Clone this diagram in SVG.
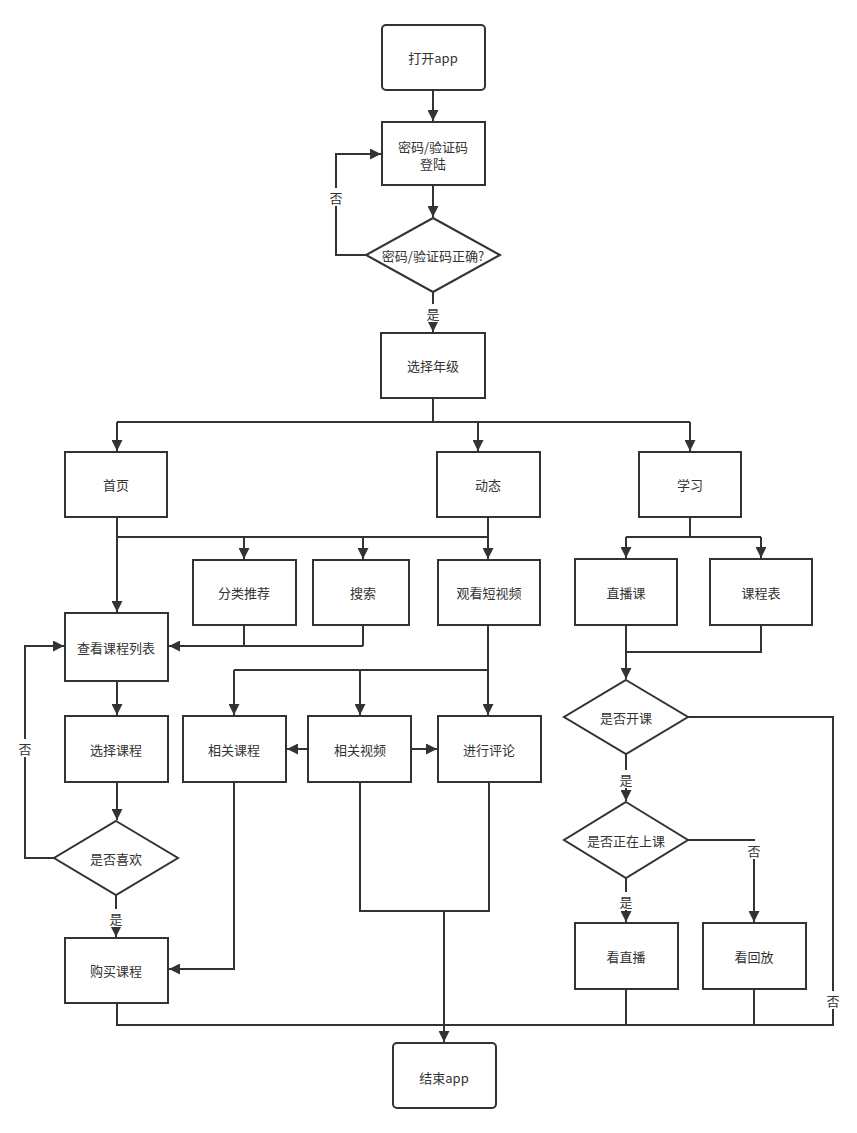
<svg xmlns="http://www.w3.org/2000/svg" width="857" height="1133" viewBox="0 0 857 1133">
<style>
.n{fill:#fff;stroke:#333;stroke-width:2}
.t{font-family:"Noto Sans CJK SC","Liberation Sans",sans-serif;font-size:13px;fill:#333;text-anchor:middle;dominant-baseline:central}
.c{fill:none;stroke:#333;stroke-width:2}
.a{marker-end:url(#ar)}
.lb{fill:#fff}
</style>
<defs><marker id="ar" viewBox="0 0 10 10" refX="10" refY="5" markerWidth="5.5" markerHeight="5.5" orient="auto" markerUnits="strokeWidth"><path d="M0,0L10,5L0,10z" fill="#333"/></marker></defs>
<rect width="857" height="1133" fill="#fff"/>
<g id="connectors">
<path class="c a" d="M433,90V121"/>
<path class="c a" d="M433,185V217"/>
<path class="c a" d="M366,255H336V154H381"/>
<path class="c a" d="M433,292V332"/>
<path class="c" d="M433,398V422M117,422H690"/>
<path class="c a" d="M117,422V451"/>
<path class="c a" d="M478,422V451"/>
<path class="c a" d="M690,422V451"/>
<path class="c a" d="M117,517V612"/>
<path class="c" d="M117,537H488M488,517V537"/>
<path class="c a" d="M244,537V559"/>
<path class="c a" d="M363,537V559"/>
<path class="c a" d="M488,537V559"/>
<path class="c" d="M244,625V646M363,625V646"/>
<path class="c a" d="M363,646H169"/>
<path class="c a" d="M117,681V715"/>
<path class="c a" d="M117,782V820"/>
<path class="c a" d="M54,858H25V646H64"/>
<path class="c a" d="M116,895V937"/>
<path class="c" d="M488,625V670H234"/>
<path class="c a" d="M234,670V715"/>
<path class="c a" d="M360,670V715"/>
<path class="c a" d="M488,670V715"/>
<path class="c a" d="M308,749H287"/>
<path class="c a" d="M411,749H437"/>
<path class="c a" d="M234,782V969H169"/>
<path class="c" d="M360,782V911H489V782"/>
<path class="c a" d="M444,911V1042"/>
<path class="c" d="M117,1003V1025H833V717H688"/>
<path class="c" d="M626,989V1025M754,989V1025"/>
<path class="c" d="M690,517V537M626,537H761"/>
<path class="c a" d="M626,537V558"/>
<path class="c a" d="M761,537V558"/>
<path class="c" d="M626,625V652H761V625"/>
<path class="c a" d="M626,652V679"/>
<path class="c a" d="M626,754V801"/>
<path class="c a" d="M626,878V922"/>
<path class="c a" d="M688,840H754V922"/>
<rect class="lb" x="328" y="188" width="16" height="18"/><text class="t" x="336" y="197">否</text>
<rect class="lb" x="425" y="304" width="16" height="18"/><text class="t" x="433" y="313">是</text>
<rect class="lb" x="17" y="739" width="16" height="18"/><text class="t" x="25" y="748">否</text>
<rect class="lb" x="108" y="909" width="16" height="18"/><text class="t" x="116" y="918">是</text>
<rect class="lb" x="618" y="770" width="16" height="18"/><text class="t" x="626" y="779">是</text>
<rect class="lb" x="618" y="892" width="16" height="18"/><text class="t" x="626" y="901">是</text>
<rect class="lb" x="746" y="841" width="16" height="18"/><text class="t" x="754" y="850">否</text>
<rect class="lb" x="825" y="991" width="16" height="18"/><text class="t" x="833" y="1000">否</text>
</g>
<g id="n1"><rect class="n" x="382" y="25" width="103" height="65" rx="4"/><text class="t" x="433" y="57">打开app</text></g>
<g id="n2"><rect class="n" x="382" y="122" width="103" height="63"/><text class="t" x="433" y="146">密码/验证码</text><text class="t" x="433" y="163">登陆</text></g>
<g id="n3"><path class="n" d="M433,218L500,255L433,292L366,255Z"/><text class="t" x="433" y="255">密码/验证码正确?</text></g>
<g id="n4"><rect class="n" x="381" y="333" width="104" height="65"/><text class="t" x="433" y="365">选择年级</text></g>
<g id="n5"><rect class="n" x="65" y="452" width="102" height="65"/><text class="t" x="116" y="484">首页</text></g>
<g id="n6"><rect class="n" x="437" y="452" width="103" height="65"/><text class="t" x="488" y="484">动态</text></g>
<g id="n7"><rect class="n" x="639" y="452" width="102" height="65"/><text class="t" x="690" y="484">学习</text></g>
<g id="n8"><rect class="n" x="193" y="560" width="103" height="65"/><text class="t" x="244" y="592">分类推荐</text></g>
<g id="n9"><rect class="n" x="313" y="560" width="96" height="65"/><text class="t" x="363" y="592">搜索</text></g>
<g id="n10"><rect class="n" x="438" y="560" width="102" height="65"/><text class="t" x="489" y="592">观看短视频</text></g>
<g id="n11"><rect class="n" x="65" y="613" width="103" height="68"/><text class="t" x="116" y="647">查看课程列表</text></g>
<g id="n12"><rect class="n" x="65" y="716" width="103" height="66"/><text class="t" x="116" y="749">选择课程</text></g>
<g id="n13"><rect class="n" x="183" y="716" width="103" height="66"/><text class="t" x="234" y="749">相关课程</text></g>
<g id="n14"><rect class="n" x="308" y="716" width="103" height="66"/><text class="t" x="360" y="749">相关视频</text></g>
<g id="n15"><rect class="n" x="438" y="716" width="103" height="66"/><text class="t" x="489" y="749">进行评论</text></g>
<g id="n16"><path class="n" d="M116,821L178,858L116,895L54,858Z"/><text class="t" x="116" y="858">是否喜欢</text></g>
<g id="n17"><rect class="n" x="65" y="938" width="103" height="65"/><text class="t" x="116" y="970">购买课程</text></g>
<g id="n18"><rect class="n" x="393" y="1043" width="103" height="65" rx="4"/><text class="t" x="444" y="1077">结束app</text></g>
<g id="n19"><rect class="n" x="575" y="559" width="102" height="66"/><text class="t" x="626" y="592">直播课</text></g>
<g id="n20"><rect class="n" x="710" y="559" width="102" height="66"/><text class="t" x="761" y="592">课程表</text></g>
<g id="n21"><path class="n" d="M626,680L688,717L626,754L564,717Z"/><text class="t" x="626" y="717">是否开课</text></g>
<g id="n22"><path class="n" d="M626,802L688,840L626,878L564,840Z"/><text class="t" x="626" y="840">是否正在上课</text></g>
<g id="n23"><rect class="n" x="575" y="923" width="103" height="66"/><text class="t" x="626" y="956">看直播</text></g>
<g id="n24"><rect class="n" x="703" y="923" width="103" height="66"/><text class="t" x="754" y="956">看回放</text></g>
</svg>
